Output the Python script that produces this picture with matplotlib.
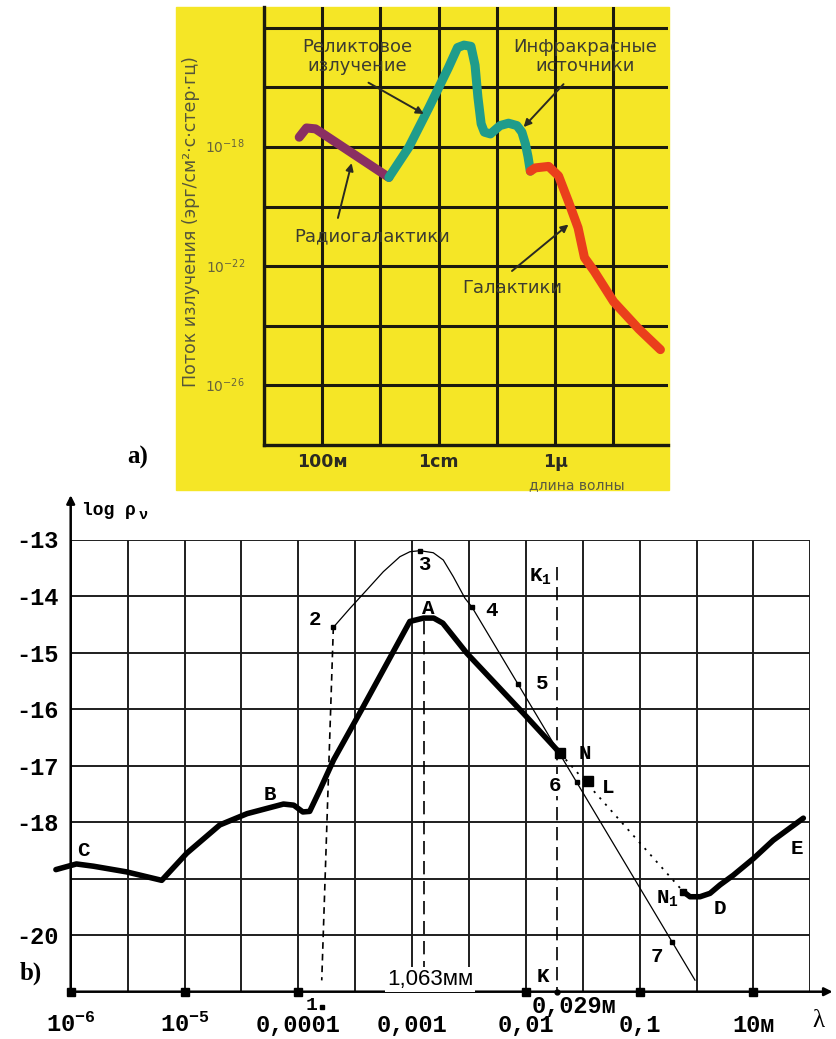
import matplotlib
matplotlib.use("Agg")
import matplotlib.pyplot as plt
import matplotlib.transforms as mtransforms
from matplotlib.patches import Rectangle
import numpy as np

plt.rcParams["mathtext.fontset"] = "custom"
plt.rcParams["mathtext.rm"] = "Liberation Mono:bold"
plt.rcParams["mathtext.it"] = "Liberation Mono:bold"
plt.rcParams["mathtext.bf"] = "Liberation Mono:bold"
plt.rcParams["mathtext.sf"] = "DejaVu Sans"

W, H = 836, 1039

# ---------------- panel a): log10(lambda, cm) vs log10(flux) ----------------
a_xticks = [4, 0, -4]
a_xlabels = ["100м", "1cm", "1μ"]
a_yticks = [-18, -22, -26]
a_ylabels = [r"$\mathsf{10^{-18}}$", r"$\mathsf{10^{-22}}$", r"$\mathsf{10^{-26}}$"]

radio_x = [4.79, 4.54, 4.23, 1.71]
radio_y = [-17.67, -17.36, -17.39, -19.02]

relic_x = [1.71, 1.02, 0.33, -0.33, -0.65, -0.87, -1.11, -1.25, -1.35, -1.46,
           -1.57, -1.78, -2.11, -2.40, -2.69, -2.86, -2.98, -3.07, -3.15]
relic_y = [-19.02, -18.0, -16.67, -15.35, -14.66, -14.58, -14.62, -15.25, -16.33, -17.22,
           -17.5, -17.56, -17.28, -17.2, -17.28, -17.5, -17.89, -18.32, -18.81]

galaxy_x = [-3.15, -3.32, -3.78, -4.12, -4.46, -4.79, -5.01, -5.34, -6.01, -6.88, -7.62]
galaxy_y = [-18.81, -18.70, -18.65, -18.97, -19.83, -20.71, -21.71, -22.16, -23.19, -24.11, -24.8]

# label text, text position, arrow start, arrow end
a_notes = [
    ("Реликтовое\nизлучение", (2.81, -14.97), (2.41, -15.84), (0.51, -16.89)),
    ("Инфракрасные\nисточники", (-5.03, -14.97), (-4.29, -15.89), (-2.92, -17.33)),
    ("Радиогалактики", (2.29, -20.99), (3.46, -20.38), (2.99, -18.54)),
    ("Галактики", (-2.52, -22.73), (-2.52, -22.16), (-4.46, -20.6)),
]

# ---------------- panel b): log10(lambda, m) vs log rho_nu ----------------
b_xticks = [-6, -5, -4, -3, -2, -1, 0]
b_xlabels = [r"$10^{-6}$", r"$10^{-5}$", "0,0001", "0,001", "0,01", "0,1", "10м"]
b_yticks = [-21, -20, -19, -18, -17, -16, -15, -14, -13]
b_ylabels = ["", "-20", "", "-18", "-17", "-16", "-15", "-14", "-13"]

main_x = [-6.13, -5.95, -5.80, -5.51, -5.20, -4.98, -4.69, -4.45, -4.13, -4.04, -3.96,
          -3.90, -3.81, -3.69, -3.43, -3.02, -2.90, -2.81, -2.73, -2.52, -2.02, -1.70]
main_y = [-18.84, -18.74, -18.78, -18.88, -19.03, -18.55, -18.05, -17.85, -17.68, -17.70, -17.82,
          -17.81, -17.43, -16.90, -15.96, -14.45, -14.39, -14.39, -14.48, -15.01, -16.08, -16.78]

de_x = [-0.617, -0.558, -0.470, -0.382, -0.294, -0.178, 0.002, 0.174, 0.438]
de_y = [-19.23, -19.32, -19.32, -19.26, -19.11, -18.94, -18.64, -18.32, -17.93]

thin_x = [-3.692, -3.546, -3.399, -3.253, -3.107, -3.019, -2.931, -2.814, -2.726,
          -2.638, -2.535, -2.476, -0.514]
thin_y = [-14.554, -14.218, -13.894, -13.570, -13.304, -13.216, -13.198, -13.234, -13.363,
          -13.658, -14.041, -14.189, -20.796]

# numbered points on the thin curve
pt_x = [-3.692, -2.931, -2.476, -2.072, -1.555, -0.715]
pt_y = [-14.554, -13.198, -14.189, -15.55, -17.29, -20.12]
pt_names = ["2", "3", "4", "5", "6", "7"]
pt_label_x = [-3.85, -2.89, -2.30, -1.86, -1.745, -0.85]
pt_label_y = [-14.42, -13.45, -14.25, -15.55, -17.35, -20.38]

N_pt = (-1.70, -16.78)
L_pt = (-1.457, -17.27)
N1_pt = (-0.617, -19.23)
lam_A = -2.895     # 1,063 mm
lam_K = -1.729     # 0,029 m
foot_1 = (-3.794, -20.8)

b_letters = [("C", -5.89, -18.50), ("B", -4.25, -17.52), ("A", -2.86, -14.22),
             ("N", -1.48, -16.78), ("L", -1.28, -17.38), ("D", -0.295, -19.52),
             ("E", 0.38, -18.47), ("N$_1$", -0.76, -19.35), ("K$_1$", -1.875, -13.66),
             ("K", -1.847, -20.73)]
axis_marks = [-6, -5, -4, -2, -1, 0]


def fig_box(left, top, right, bottom):
    return [left / W, 1 - bottom / H, (right - left) / W, (bottom - top) / H]


def draw_panel_a(fig):
    # yellow photo background, kept below the axes
    fig.patches.append(Rectangle((176 / W, 1 - 490 / H), (669 - 176) / W, (490 - 7) / H,
                                 transform=fig.transFigure, color="#f5e626", zorder=-5))
    ax = fig.add_axes(fig_box(264, 7, 668, 445))
    ax.set_facecolor("none")
    ax.set_xlim(6, -7.88)
    ax.set_ylim(-28, -13.3)
    ax.set_xticks(np.arange(-6, 6.1, 2))
    ax.set_yticks(np.arange(-26, -13, 2))
    ax.grid(True, color="#1b1a0e", lw=2.2)
    ax.tick_params(length=0, labelbottom=False, labelleft=False)
    for side in ["top", "right"]:
        ax.spines[side].set_visible(False)
    for side in ["left", "bottom"]:
        ax.spines[side].set_linewidth(2.4)
        ax.spines[side].set_color("#1b1a0e")

    kw = dict(lw=6.5, solid_capstyle="round", solid_joinstyle="round")
    ax.plot(radio_x, radio_y, color="#8a2f62", **kw)
    ax.plot(relic_x, relic_y, color="#1f9c8c", **kw)
    ax.plot(galaxy_x, galaxy_y, color="#ea3f1c", **kw)

    for text, (tx, ty), start, end in a_notes:
        ax.text(tx, ty, text, ha="center", va="center", fontsize=13,
                color="#3c3c30", linespacing=1.05)
        ax.annotate("", xy=end, xytext=start,
                    arrowprops=dict(arrowstyle="-|>", color="#2a2a22", lw=1.4,
                                    mutation_scale=11, shrinkA=0, shrinkB=0))

    trans_y = mtransforms.blended_transform_factory(ax.transAxes, ax.transData)
    for v, lab in zip(a_yticks, a_ylabels):
        ax.text(-0.096, v, lab, transform=trans_y, ha="center", va="center",
                fontsize=10, color="#66633c")
    trans_x = mtransforms.blended_transform_factory(ax.transData, ax.transAxes)
    for v, lab in zip(a_xticks, a_xlabels):
        ax.text(v, -0.038, lab, transform=trans_x, ha="center", va="center",
                fontsize=12.5, fontweight="bold", color="#2a2a22")
    ax.text(-4.76, -0.092, "длина волны", transform=trans_x, ha="center", va="center",
            fontsize=10, color="#5a5a40")
    fig.text(191 / W, 1 - 222 / H, "Поток излучения (эрг/см²·с·стер·гц)", rotation=90,
             ha="center", va="center", fontsize=12.5, color="#55553a")
    fig.text(138 / W, 1 - 457 / H, "a)", ha="center", va="center", fontsize=18,
             family="Liberation Serif", fontweight="bold")


def draw_panel_b(fig):
    ax = fig.add_axes(fig_box(70.7, 539.5, 810.4, 991.7))
    ax.set_xlim(-6, 0.5)
    ax.set_ylim(-21, -13)
    ax.set_xticks(np.arange(-6, 0.51, 0.5))
    ax.set_yticks(b_yticks)
    ax.set_yticklabels(b_ylabels, family="Liberation Mono", fontweight="bold", fontsize=17)
    ax.tick_params(length=0, labelbottom=False, pad=9)
    ax.set_axisbelow(True)
    ax.grid(True, color="#1e1e1e", lw=1.4)
    for s in ax.spines.values():
        s.set_visible(False)

    # axes with arrows
    arrow = dict(arrowstyle="-|>", lw=1.8, color="k", mutation_scale=12, shrinkA=0, shrinkB=0)
    ax.annotate("", xy=(0, 1.098), xytext=(0, 0), xycoords="axes fraction",
                arrowprops=arrow, annotation_clip=False)
    ax.annotate("", xy=(1.03, 0), xytext=(0, 0), xycoords="axes fraction",
                arrowprops=arrow, annotation_clip=False)
    ax.plot(axis_marks, [-21] * len(axis_marks), "s", color="k", ms=5.5, clip_on=False, zorder=6)
    ax.plot([lam_K], [-21], "o", color="k", ms=3.5, clip_on=False, zorder=6)

    # curves
    kw = dict(color="k", lw=4, solid_capstyle="round", solid_joinstyle="round", clip_on=False)
    ax.plot(main_x, main_y, **kw)
    ax.plot(de_x, de_y, **kw)
    ax.plot(thin_x, thin_y, color="k", lw=0.9)
    ax.plot([N_pt[0], N1_pt[0]], [N_pt[1], N1_pt[1]], color="k", lw=1.3, ls=(0, (1.2, 3.5)))

    # dashed verticals
    ax.plot([lam_A, lam_A], [-14.45, -21], color="k", lw=1.2, ls=(0, (8, 4)))
    ax.plot([lam_K, lam_K], [-13.48, -21], color="k", lw=1.2, ls=(0, (8, 4)))
    ax.plot([pt_x[0], foot_1[0]], [pt_y[0], foot_1[1]], color="k", lw=1.2, ls=(0, (4, 3)))

    # markers
    ax.plot(pt_x, pt_y, "s", color="k", ms=3)
    ax.plot([N_pt[0], L_pt[0]], [N_pt[1], L_pt[1]], "s", color="k", ms=6.5)
    ax.plot([N1_pt[0]], [N1_pt[1]], "s", color="k", ms=5)

    mono = dict(family="Liberation Mono", fontweight="bold")
    for name, lx, ly in zip(pt_names, pt_label_x, pt_label_y):
        bb = dict(fc="white", ec="none", pad=1) if name == "6" else None
        ax.text(lx, ly, name, ha="center", va="center", fontsize=15, bbox=bb, zorder=5, **mono)
    for name, lx, ly in b_letters:
        ax.text(lx, ly, name, ha="center", va="center", fontsize=15, zorder=5, **mono)

    ax.text(-2.84, -20.78, "1,063мм", ha="center", va="center", fontsize=16,
            family="Liberation Sans", bbox=dict(fc="white", ec="none", pad=1.5), zorder=5)
    ax.text(-3.88, -21.24, "1", ha="center", va="center", fontsize=14, clip_on=False, **mono)
    ax.plot([-3.79], [-21.27], "s", color="k", ms=3, clip_on=False)
    ax.text(-1.58, -21.27, "0,029м", ha="center", va="center", fontsize=17, clip_on=False, **mono)

    for v, lab in zip(b_xticks, b_xlabels):
        ax.text(v, -21.59, lab, ha="center", va="center", fontsize=17, clip_on=False, **mono)

    ax.text(0.575, -21.52, "λ", ha="center", va="center", fontsize=18,
            family="Liberation Serif", clip_on=False)
    ax.text(-5.9, -12.48, "log ρ", ha="left", va="center", fontsize=13, clip_on=False, **mono)
    ax.text(-5.405, -12.56, "ν", ha="left", va="center", fontsize=11, clip_on=False, **mono)
    fig.text(31 / W, 1 - 973 / H, "b)", ha="center", va="center", fontsize=18,
             family="Liberation Serif", fontweight="bold")


def main():
    fig = plt.figure(figsize=(W / 100, H / 100), dpi=100)
    fig.patch.set_facecolor("white")
    draw_panel_a(fig)
    draw_panel_b(fig)
    fig.savefig("out.png", dpi=100)
    plt.close(fig)


if __name__ == "__main__":
    main()
